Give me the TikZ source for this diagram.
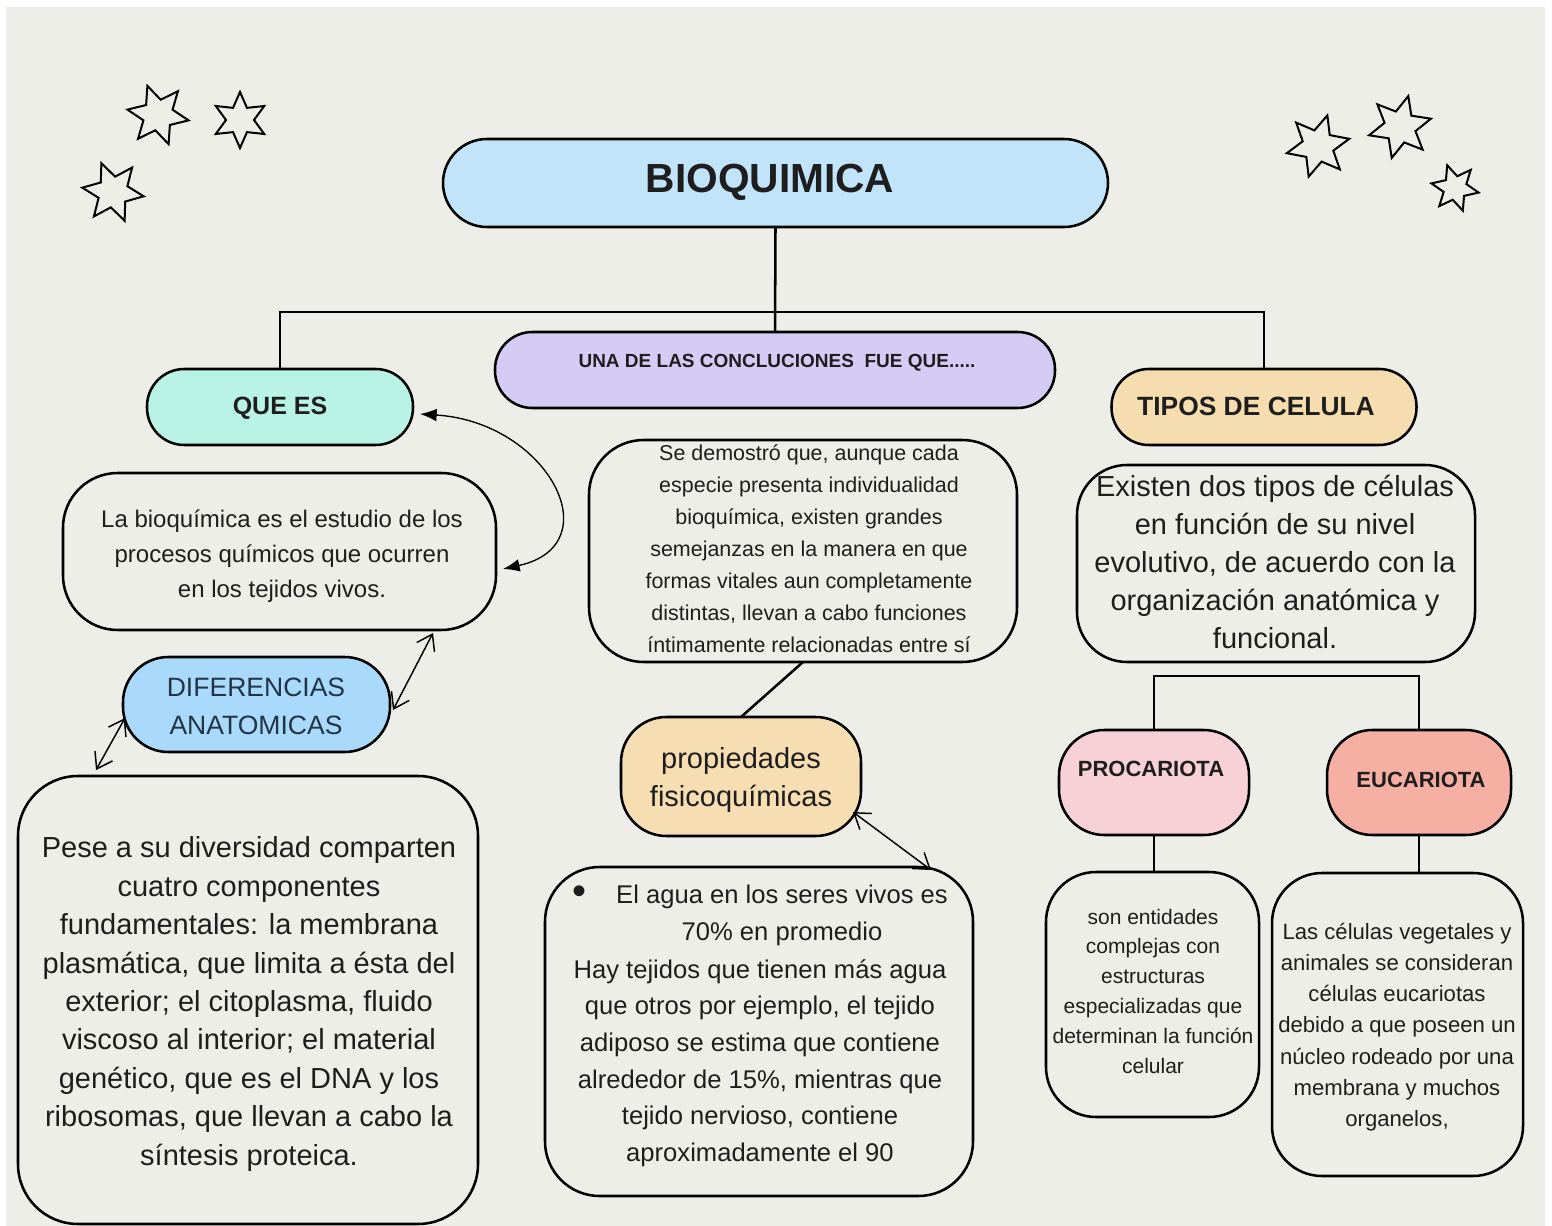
\documentclass[tikz,border=0pt]{standalone}
\usepackage{fontspec}
\setmainfont{Liberation Sans}
\usetikzlibrary{shapes.geometric,arrows.meta}
\definecolor{panel}{HTML}{EEEEE8}
\definecolor{ink}{HTML}{1E1E1E}
\definecolor{navy}{HTML}{243447}
\definecolor{cbio}{HTML}{C2E4FA}
\definecolor{cuna}{HTML}{D5CCF5}
\definecolor{cque}{HTML}{B8F3E6}
\definecolor{ctipos}{HTML}{F5DDB0}
\definecolor{cdif}{HTML}{A9D9FB}
\definecolor{cprop}{HTML}{F6DDB2}
\definecolor{cproc}{HTML}{F8D0D8}
\definecolor{ceuc}{HTML}{F6AFA3}
\newcommand{\fs}[2]{\fontsize{#1}{#2}\selectfont}
\begin{document}
\begin{tikzpicture}[x=0.75pt,y=-0.75pt,
  box/.style={draw=black, line width=1.9pt, rectangle, inner sep=0pt, outer sep=0pt},
  txt/.style={inner sep=0pt, align=center, text=ink},
  tree/.style={line width=1.9pt, draw=black},
  dbl/.style={line width=1.1pt, {Straight Barb[length=11pt,width=15pt]}-{Straight Barb[length=11pt,width=15pt]}},
  curv/.style={line width=1pt, {Latex[length=12.5pt,width=9.5pt]}-{Latex[length=12.5pt,width=9.5pt]}},
  starshape/.style={star, star points=6, star point ratio=2, draw=black, line width=1.5pt, inner sep=0pt}
]
\useasboundingbox (0,0) rectangle (1552,1226);
\fill[white] (0,0) rectangle (1552,1226);
\fill[panel] (6,7) rectangle (1545,1226);

% stars
\node[starshape, minimum size=46.5pt, rotate=20] (s1) at (158,115) {};
\node[starshape, minimum size=42pt, rotate=0] (s2) at (240,120) {};
\node[starshape, minimum size=46.5pt, rotate=22] (s3) at (113,192) {};
\node[starshape, minimum size=48pt, rotate=-17] (s4) at (1318,146) {};
\node[starshape, minimum size=48pt, rotate=-15] (s5) at (1400,127) {};
\node[starshape, minimum size=36pt, rotate=19] (s6) at (1455,188) {};

% boxes
\node[box, fill=cbio, minimum width=498.75pt, minimum height=66pt, rounded corners=33pt] (bio) at (775.5,183) {};
\node[box, fill=cuna, minimum width=420pt, minimum height=57pt, rounded corners=28pt] (una) at (775,370) {};
\node[box, fill=cque, minimum width=199.5pt, minimum height=57pt, rounded corners=28pt] (que) at (280,407) {};
\node[box, fill=ctipos, minimum width=228.75pt, minimum height=57pt, rounded corners=28pt] (tipos) at (1264,407) {};
\node[box, minimum width=324.75pt, minimum height=117.75pt, rounded corners=41pt] (def) at (279.5,551.5) {};
\node[box, fill=cdif, minimum width=200.25pt, minimum height=71.25pt, rounded corners=34pt] (dif) at (256.5,704.5) {};
\node[box, minimum width=345pt, minimum height=336pt, rounded corners=45pt] (comp) at (248,1000) {};
\node[box, minimum width=321pt, minimum height=166.5pt, rounded corners=41pt] (conc) at (803,551) {};
\node[box, fill=cprop, minimum width=180pt, minimum height=89.25pt, rounded corners=34pt] (prop) at (741,776.5) {};
\node[box, minimum width=321pt, minimum height=246.75pt, rounded corners=41pt] (agua) at (759,1031.5) {};
\node[box, minimum width=298.5pt, minimum height=147.75pt, rounded corners=37.5pt] (exist) at (1276,563.5) {};
\node[box, fill=cproc, minimum width=142.5pt, minimum height=78.75pt, rounded corners=34pt] (proc) at (1154,782.5) {};
\node[box, fill=ceuc, minimum width=138pt, minimum height=78.75pt, rounded corners=34pt] (euc) at (1419,782.5) {};
\node[box, minimum width=159.75pt, minimum height=183.75pt, rounded corners=37.5pt] (proct) at (1152.5,994.5) {};
\node[box, minimum width=188.25pt, minimum height=227.25pt, rounded corners=37.5pt] (euct) at (1397.5,1024.5) {};

% texts
\node[txt, font=\fs{30.5pt}{36pt}\bfseries] (biot) at (770,182) {BIOQUIMICA};
\node[txt, font=\fs{14.25pt}{17pt}\bfseries] (unat) at (777,363) {UNA DE LAS CONCLUCIONES \ FUE QUE.....};
\node[txt, font=\fs{18.75pt}{22pt}\bfseries] (quet) at (280,408) {QUE ES};
\node[txt, font=\fs{19.8pt}{23pt}\bfseries] (tipost) at (1256,406) {TIPOS DE CELULA};
\node[txt, font=\fs{18pt}{26.25pt}] (deft) at (282,556) {La bioquímica es el estudio de los\\procesos químicos que ocurren\\en los tejidos vivos.};
\node[txt, text=navy, font=\fs{19.9pt}{28.5pt}] (dift) at (256,706) {DIFERENCIAS\\ANATOMICAS};
\node[txt, font=\fs{21.75pt}{28.8pt}] (compt) at (249,1004) {Pese a su diversidad comparten\\cuatro componentes\\fundamentales: la membrana\\plasmática, que limita a ésta del\\exterior; el citoplasma, fluido\\viscoso al interior; el material\\genético, que es el DNA y los\\ribosomas, que llevan a cabo la\\síntesis proteica.};
\node[txt, font=\fs{16.1pt}{24pt}] (conct) at (809,549) {Se demostró que, aunque cada\\especie presenta individualidad\\bioquímica, existen grandes\\semejanzas en la manera en que\\formas vitales aun completamente\\distintas, llevan a cabo funciones\\íntimamente relacionadas entre sí};
\node[txt, font=\fs{21.75pt}{28.5pt}] (propt) at (741,780) {propiedades\\fisicoquímicas};
\node[txt, font=\fs{30pt}{30pt}] (bul) at (579,895) {\textbullet};
\node[txt, font=\fs{19.2pt}{27.75pt}] (aguai) at (782,915) {El agua en los seres vivos es\\70\% en promedio};
\node[txt, font=\fs{19.2pt}{27.45pt}] (aguat) at (760,1063) {Hay tejidos que tienen más agua\\que otros por ejemplo, el tejido\\adiposo se estima que contiene\\alrededor de 15\%, mientras que\\tejido nervioso, contiene\\aproximadamente el 90};
\node[txt, font=\fs{21.75pt}{28.65pt}] (existt) at (1275,562) {Existen dos tipos de células\\en función de su nivel\\evolutivo, de acuerdo con la\\organización anatómica y\\funcional.};
\node[txt, font=\fs{16.5pt}{20pt}\bfseries] (proclab) at (1151,769) {PROCARIOTA};
\node[txt, font=\fs{16.5pt}{20pt}\bfseries] (euclab) at (1421,780) {EUCARIOTA};
\node[txt, font=\fs{15.75pt}{22.35pt}] (proctt) at (1153,991) {son entidades\\complejas con\\estructuras\\especializadas que\\determinan la función\\celular};
\node[txt, font=\fs{16.6pt}{23.4pt}] (euctt) at (1397,1027) {Las células vegetales y\\animales se consideran\\células eucariotas\\debido a que poseen un\\núcleo rodeado por una\\membrana y muchos\\organelos,};

% tree connectors
\coordinate (jl) at (280,312);
\coordinate (jr) at (1264,312);
\draw[tree] (bio.south) -- (una.north);
\draw[tree] (que.north) -- (jl) -- (jr) -- (tipos.north);
\coordinate (pl) at (1154,676);
\coordinate (pr) at (1419,676);
\draw[tree] (proc.north) -- (pl) -- (pr) -- (euc.north);
\draw[tree] (proc.south) -- (proc.south |- proct.north);
\draw[tree] (euc.south) -- (euc.south |- euct.north);
\draw[tree] (conc.south) -- (prop.north);

% arrows
\coordinate (c1) at (420,414);
\coordinate (c2) at (503,569);
\draw[curv] (c1) .. controls (548,422) and (612,545) .. (c2);
\coordinate (d1) at (433,633);
\coordinate (d2) at (393,710);
\draw[dbl] (d1) -- (d2);
\coordinate (e1) at (125,718);
\coordinate (e2) at (96,770);
\draw[dbl] (e1) -- (e2);
\coordinate (f1) at (853,812);
\coordinate (f2) at (931,870);
\draw[dbl] (f1) -- (f2);
\end{tikzpicture}
\end{document}
